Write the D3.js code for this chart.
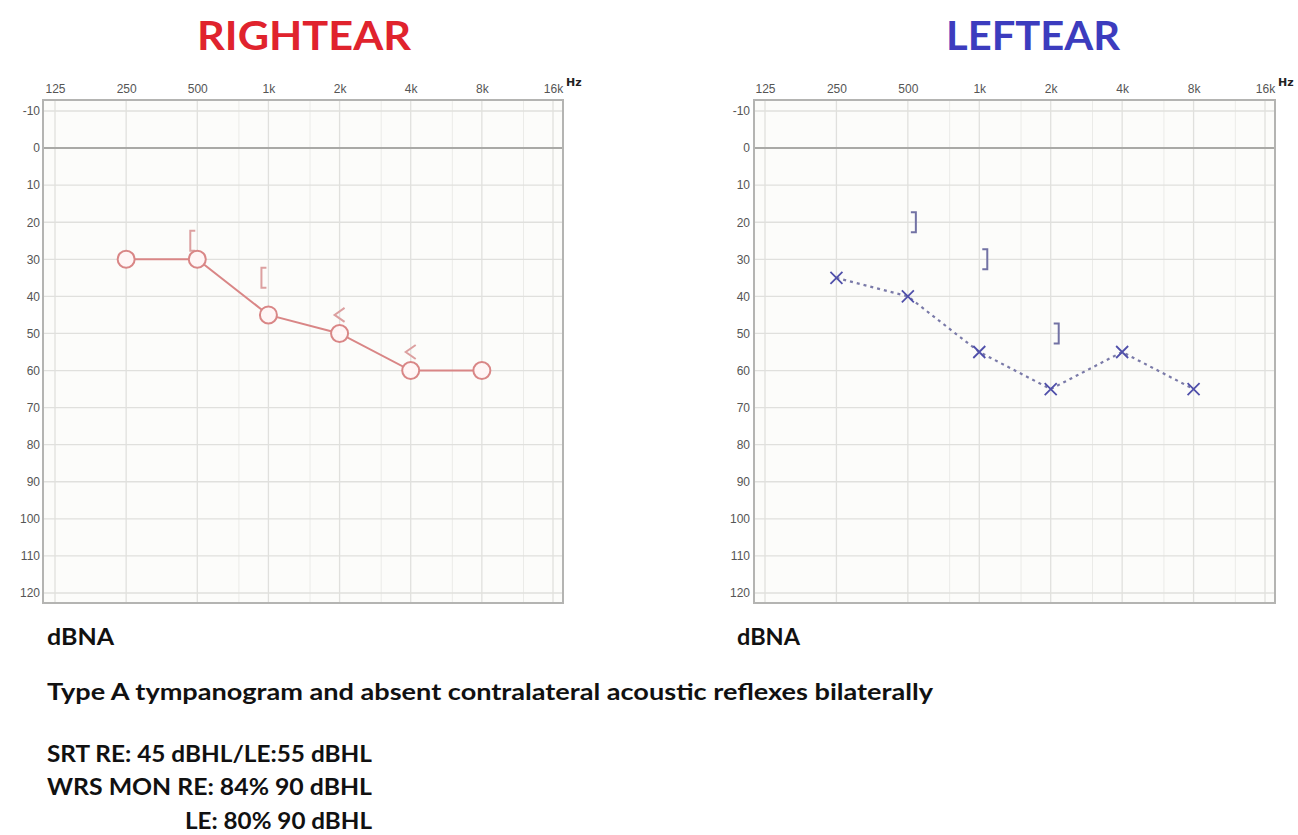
<!DOCTYPE html>
<html><head><meta charset="utf-8">
<script src="https://cdn.jsdelivr.net/npm/d3@7"></script>
<style>body{margin:0;background:#fff}svg{display:block}</style>
</head><body>
<svg id="c" width="1298" height="835"></svg>
<script>
// ---- data ----
const freqTicks = [125, 250, 500, 1000, 2000, 4000, 8000, 16000];
const freqTickLabels = ["125", "250", "500", "1k", "2k", "4k", "8k", "16k"];
const halfOctaves = [750, 1500, 3000, 6000, 12000];
const dbTicks = [-10, 0, 10, 20, 30, 40, 50, 60, 70, 80, 90, 100, 110, 120];

const airFreqs = [250, 500, 1000, 2000, 4000, 8000];
const rightAir = [30, 30, 45, 50, 60, 60];
const leftAir = [35, 40, 55, 65, 55, 65];

const rightBoneFreqs = [500, 1000, 2000, 4000];
const rightBone = [25, 35, 45, 55];
const rightBoneSymbols = ["[", "[", "<", "<"];

const leftBoneFreqs = [500, 1000, 2000];
const leftBone = [20, 30, 50];
const leftBoneSymbols = ["]", "]", "]"];

const titles = ["RIGHTEAR", "LEFTEAR"];
const notes = [
  "Type A tympanogram and absent contralateral acoustic reflexes bilaterally",
  "SRT RE: 45 dBHL/LE:55 dBHL",
  "WRS MON RE: 84% 90 dBHL",
  "LE: 80% 90 dBHL"
];

// ---- drawing ----
const svg = d3.select("#c");
const fontText = "Lato, 'Open Sans', sans-serif";

function fitText(sel, w) {
  sel.attr("textLength", w).attr("lengthAdjust", "spacingAndGlyphs");
}

const panels = [
  {frame: [43, 563], x0: 55, x1: 553, title: titles[0], titleColor: "#e0232d", titleX: [197, 411],
   air: rightAir, bf: rightBoneFreqs, bv: rightBone, bs: rightBoneSymbols, side: "right", dbnaX: [47, 114], labelX: 40},
  {frame: [754, 1275], x0: 765, x1: 1265, title: titles[1], titleColor: "#3c3cbe", titleX: [946, 1120],
   air: leftAir, bf: leftBoneFreqs, bv: leftBone, bs: leftBoneSymbols, side: "left", dbnaX: [737, 800], labelX: 750}
];

const plotTop = 100, plotBottom = 603;
const y = d3.scaleLinear().domain([-10, 120]).range([111, 593]);

panels.forEach(p => {
  const x = d3.scaleLog().base(2).domain([125, 16000]).range([p.x0, p.x1]);
  const g = svg.append("g");

  g.append("rect").attr("x", p.frame[0]).attr("y", plotTop)
    .attr("width", p.frame[1] - p.frame[0]).attr("height", plotBottom - plotTop)
    .attr("fill", "#fcfcfa");

  g.selectAll(".ho").data(halfOctaves).join("line")
    .attr("x1", d => x(d)).attr("x2", d => x(d)).attr("y1", plotTop).attr("y2", plotBottom)
    .attr("stroke", "#ebebe8").attr("stroke-width", 1);
  g.selectAll(".oc").data(freqTicks).join("line")
    .attr("x1", d => x(d)).attr("x2", d => x(d)).attr("y1", plotTop).attr("y2", plotBottom)
    .attr("stroke", "#e0e0dd").attr("stroke-width", 1.3);
  g.selectAll(".hl").data(dbTicks).join("line")
    .attr("x1", p.frame[0]).attr("x2", p.frame[1]).attr("y1", d => y(d)).attr("y2", d => y(d))
    .attr("stroke", d => d === 0 ? "#a9a9a6" : "#e0e0dd")
    .attr("stroke-width", d => d === 0 ? 2 : 1.3);

  g.append("rect").attr("x", p.frame[0]).attr("y", plotTop)
    .attr("width", p.frame[1] - p.frame[0]).attr("height", plotBottom - plotTop)
    .attr("fill", "none").attr("stroke", "#b4b4b2").attr("stroke-width", 2);

  const xAxis = d3.axisTop(x).tickValues(freqTicks)
    .tickFormat((d, i) => freqTickLabels[i]).tickSize(0).tickPadding(0);
  const ga = g.append("g").attr("transform", `translate(0,${plotTop - 7})`).call(xAxis);
  ga.select(".domain").remove();
  ga.selectAll("text").attr("font-family", "'Liberation Sans', Arial, sans-serif")
    .attr("font-size", 12).attr("fill", "#555").attr("dy", 0);

  g.append("text").attr("x", p.frame[1] + 3).attr("y", 86)
    .attr("font-family", "'DejaVu Sans', sans-serif").attr("font-weight", "bold")
    .attr("font-size", 11).attr("fill", "#222").text("Hz");

  const yAxis = d3.axisLeft(y).tickValues(dbTicks).tickFormat(d => String(d))
    .tickSize(0).tickPadding(0);
  const gy = g.append("g").attr("transform", `translate(${p.labelX},0)`).call(yAxis);
  gy.select(".domain").remove();
  gy.selectAll("text").attr("font-family", "'Liberation Sans', Arial, sans-serif")
    .attr("font-size", 12).attr("fill", "#555");

  const t = g.append("text").attr("x", p.titleX[0]).attr("y", 50)
    .attr("font-family", fontText).attr("font-weight", "bold").attr("font-size", 41)
    .attr("fill", p.titleColor).text(p.title);
  fitText(t, p.titleX[1] - p.titleX[0]);

  const dn = g.append("text").attr("x", p.dbnaX[0]).attr("y", 645)
    .attr("font-family", fontText).attr("font-weight", "bold").attr("font-size", 22)
    .attr("fill", "#111").text("dBNA");
  fitText(dn, p.dbnaX[1] - p.dbnaX[0]);

  const pts = airFreqs.map((f, i) => [x(f), y(p.air[i])]);

  if (p.side === "right") {
    const col = "#d98686";
    g.append("path").attr("d", d3.line()(pts)).attr("fill", "none")
      .attr("stroke", col).attr("stroke-width", 2);
    p.bf.forEach((f, i) => {
      const cx = x(f), cy = y(p.bv[i]);
      let d;
      if (p.bs[i] === "[") {
        d = `M${cx - 2},${cy - 10} L${cx - 7},${cy - 10} L${cx - 7},${cy + 10} L${cx - 2},${cy + 10}`;
      } else {
        d = `M${cx + 5},${cy - 7} L${cx - 5},${cy} L${cx + 5},${cy + 7}`;
      }
      g.append("path").attr("d", d).attr("fill", "none")
        .attr("stroke", "#dca0a0").attr("stroke-width", 2);
    });
    g.selectAll(".circ").data(pts).join("circle")
      .attr("cx", d => d[0]).attr("cy", d => d[1]).attr("r", 8.5)
      .attr("fill", "#fff5f5").attr("stroke", col).attr("stroke-width", 2);
  } else {
    g.append("path").attr("d", d3.line()(pts)).attr("fill", "none")
      .attr("stroke", "#7a7aa8").attr("stroke-width", 2.2).attr("stroke-dasharray", "3,4");
    p.bf.forEach((f, i) => {
      const cx = x(f) + 8, cy = y(p.bv[i]);
      g.append("path")
        .attr("d", `M${cx - 5},${cy - 10} L${cx},${cy - 10} L${cx},${cy + 10} L${cx - 5},${cy + 10}`)
        .attr("fill", "none").attr("stroke", "#7272a4").attr("stroke-width", 2);
    });
    g.selectAll(".xm").data(pts).join("path")
      .attr("d", d => `M${d[0] - 6},${d[1] - 6} L${d[0] + 6},${d[1] + 6} M${d[0] + 6},${d[1] - 6} L${d[0] - 6},${d[1] + 6}`)
      .attr("stroke", "#5050aa").attr("stroke-width", 1.8).attr("fill", "none");
  }
});

const noteLayout = [[47, 700, 886], [47, 762, 325], [47, 795, 325], [185, 829, 187]];
notes.forEach((n, i) => {
  const t = svg.append("text").attr("x", noteLayout[i][0]).attr("y", noteLayout[i][1])
    .attr("font-family", fontText).attr("font-weight", "bold").attr("font-size", 23)
    .attr("fill", "#111").text(n);
  fitText(t, noteLayout[i][2]);
});
</script>
</body></html>
